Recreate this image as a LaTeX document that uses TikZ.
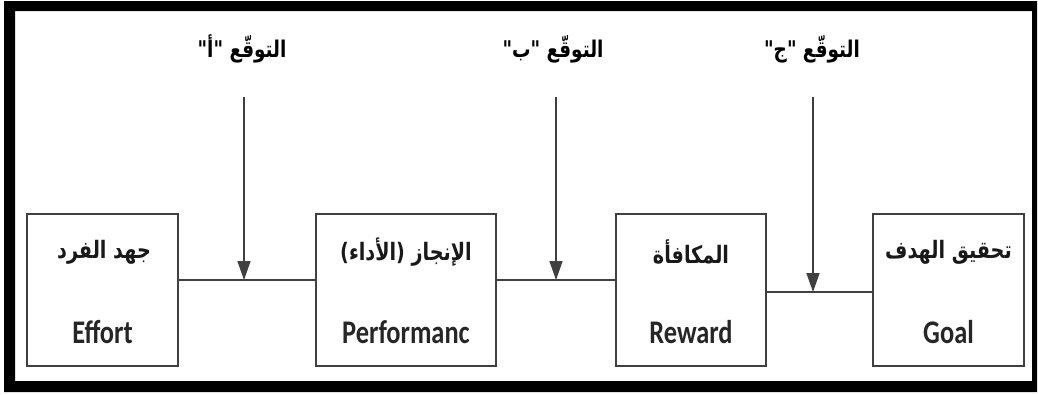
\documentclass[tikz,border=0pt]{standalone}
\usepackage{fontspec}
\usetikzlibrary{arrows.meta}
\TeXXeTstate=1
\newfontfamily\arfont[Script=Arabic,FakeStretch=0.8]{DejaVu Sans}
\newfontfamily\enfont[FakeStretch=0.8]{Carlito}
\tikzset{
  box/.style={draw=black!75,line width=1.5pt,minimum width=#1,minimum height=152pt,inner sep=0pt},
  artext/.style={font=\arfont\bfseries\fontsize{24}{27}\selectfont,inner sep=0pt,text=black!90},
  entext/.style={font=\enfont\bfseries\fontsize{33}{36}\selectfont,inner sep=0pt,text=black!85},
  lbl/.style={font=\arfont\bfseries\fontsize{23}{26}\selectfont,inner sep=0pt},
  conn/.style={draw=black!75,line width=1.5pt},
  arr/.style={draw=black!75,line width=1.5pt,-{Triangle[length=19pt,width=13pt]}}
}
\begin{document}
\begin{tikzpicture}[x=1pt,y=-1pt]
\useasboundingbox (0,0) rectangle (1038,394);
\fill[black,even odd rule] (4,1) rectangle (1037,392) (15,11) rectangle (1032,381);
% boxes
\node[box=151pt] (e) at (102.5,290) {};
\node[box=180pt] (p) at (406,290) {};
\node[box=150pt] (r) at (691,290) {};
\node[box=151pt] (g) at (948.5,290) {};
% box texts
\node[artext] (ea) at (104,252) {\beginR جهد الفرد\endR};
\node[entext] (ee) at (102.5,332) {Effort};
\node[artext] (pa) at (406,252) {\beginR الإنجاز (الأداء)\endR};
\node[entext] (pe) at (406,332) {Performanc};
\node[artext] (ra) at (691,252) {\beginR المكافأة\endR};
\node[entext] (re) at (691,332) {Reward};
\node[artext] (ga) at (948.5,252) {\beginR تحقيق الهدف\endR};
\node[entext] (ge) at (948.5,332) {Goal};
% labels
\node[lbl] (la) at (242,49) {\beginR التوقّع "أ"\endR};
\node[lbl] (lb) at (553,49) {\beginR التوقّع "ب"\endR};
\node[lbl] (lc) at (812,49) {\beginR التوقّع "ج"\endR};
% connectors
\coordinate (ma) at (244,280);
\coordinate (mb) at (556,280);
\coordinate (mc) at (813,292);
\coordinate (ta) at (244,97);
\coordinate (tb) at (556,97);
\coordinate (tc) at (813,97);
\draw[conn] (e.east |- ma) -- (p.west |- ma);
\draw[conn] (p.east |- mb) -- (r.west |- mb);
\draw[conn] (r.east |- mc) -- (g.west |- mc);
\draw[arr] (ta) -- (ma);
\draw[arr] (tb) -- (mb);
\draw[arr] (tc) -- (mc);
\end{tikzpicture}
\end{document}
